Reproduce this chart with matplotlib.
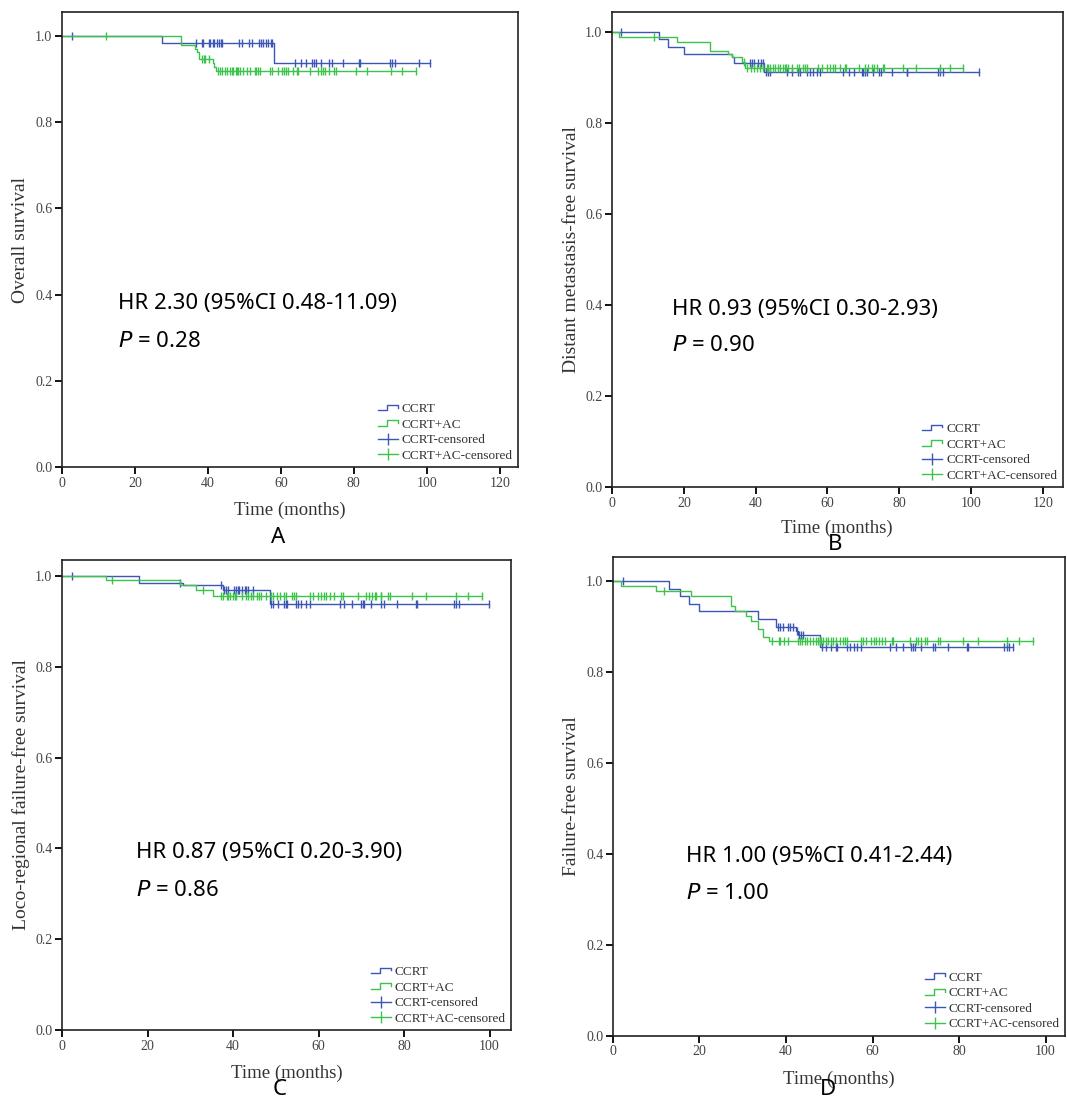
import matplotlib
matplotlib.use('Agg')
import matplotlib.pyplot as plt
import numpy as np
from matplotlib.lines import Line2D
from matplotlib.legend_handler import HandlerBase

# ---- Panel A : overall survival ----
A_ccrt_t = [27.3, 58.0]
A_ccrt_s = [0.983, 0.937]
A_ccrt_cens = [2.8, 36.7, 38.3, 38.7, 40.4, 40.7, 41.3, 41.7, 42.5, 43.0, 43.5, 43.9, 48.5, 49.4,
               51.3, 52.0, 53.9, 54.5, 55.2, 55.8, 56.5, 57.2, 57.7, 63.9, 65.4, 66.8, 68.6, 69.0,
               69.5, 70.9, 73.2, 74.1, 77.1, 81.4, 81.6, 89.9, 90.5, 91.2, 97.8, 101.0]
A_ac_t = [32.5, 36.4, 36.9, 37.6, 41.3, 41.7, 42.2]
A_ac_s = [0.979, 0.971, 0.964, 0.946, 0.938, 0.929, 0.919]
A_ac_cens = [12.1, 38.3, 38.9, 39.3, 40.2, 42.7, 43.3, 43.9, 44.6, 45.1, 46.0, 46.5, 46.9, 47.6,
             47.9, 48.3, 48.8, 49.5, 50.6, 51.5, 52.9, 53.3, 53.8, 54.2, 57.0, 57.6, 59.3, 60.2,
             60.8, 61.4, 62.0, 63.2, 64.3, 64.6, 68.1, 70.2, 70.9, 71.6, 72.2, 73.2, 74.5, 75.1,
             80.5, 83.6, 90.3, 93.2, 97.0]

# ---- Panel B : distant metastasis-free survival ----
B_ccrt_t = [13.1, 15.7, 20.1, 33.3, 34.0, 42.2]
B_ccrt_s = [0.984, 0.966, 0.951, 0.944, 0.933, 0.913]
B_ccrt_cens = [2.4, 38.4, 38.9, 39.6, 40.8, 41.4, 42.1, 42.8, 43.4, 44.0, 48.7, 50.1, 51.9, 52.4,
               54.2, 55.2, 56.1, 57.0, 57.8, 64.4, 66.1, 67.4, 69.5, 70.0, 70.5, 70.9, 72.8, 74.5,
               74.8, 77.9, 82.1, 82.3, 90.9, 91.4, 92.3, 102.2]
B_ac_t = [2.0, 18.2, 27.3, 32.2, 33.4, 36.1, 37.0]
B_ac_s = [0.990, 0.977, 0.958, 0.951, 0.944, 0.934, 0.922]
B_ac_cens = [11.8, 36.8, 37.5, 38.6, 39.6, 40.3, 41.2, 42.0, 43.1, 43.5, 44.0, 44.8, 45.4, 46.1,
             46.8, 47.5, 48.2, 48.6, 49.1, 50.0, 51.4, 52.2, 53.3, 53.8, 54.2, 57.5, 58.4, 59.8,
             60.7, 61.6, 62.1, 63.5, 64.9, 65.2, 68.9, 70.5, 71.4, 72.3, 73.0, 73.7, 75.6, 75.8,
             81.1, 84.7, 91.4, 94.2, 97.7]

# ---- Panel C : loco-regional failure-free survival ----
C_ccrt_t = [18.0, 28.3, 37.7, 48.6]
C_ccrt_s = [0.984, 0.980, 0.968, 0.938]
C_ccrt_cens = [2.4, 27.6, 37.1, 38.0, 38.4, 38.9, 40.3, 40.7, 41.1, 41.5, 42.1, 42.7, 43.1, 43.6,
               44.6, 48.8, 49.4, 50.5, 51.9, 52.3, 52.7, 54.7, 55.1, 55.8, 57.0, 58.1, 65.0, 66.0,
               67.9, 69.9, 70.3, 70.6, 72.2, 74.7, 75.2, 78.4, 82.9, 83.0, 91.6, 92.2, 92.8, 99.8]
C_ac_t = [10.3, 27.6, 31.3, 35.2]
C_ac_s = [0.991, 0.979, 0.968, 0.956]
C_ac_cens = [11.8, 33.0, 37.1, 37.7, 38.5, 38.9, 39.4, 39.9, 40.4, 40.8, 42.0, 43.1, 43.5, 44.1,
             44.7, 45.5, 46.0, 46.6, 47.8, 48.8, 49.4, 50.2, 50.9, 51.9, 52.5, 53.9, 54.3, 54.7,
             58.1, 58.7, 59.9, 60.5, 61.3, 61.8, 62.6, 63.6, 65.2, 65.6, 69.2, 71.2, 71.8, 72.4,
             73.1, 73.5, 74.5, 74.7, 76.2, 76.6, 81.9, 85.2, 92.1, 94.9, 98.3]

# ---- Panel D : failure-free survival ----
D_ccrt_t = [13.0, 15.4, 17.6, 19.9, 33.5, 37.6, 42.3, 42.8, 47.8]
D_ccrt_s = [0.983, 0.966, 0.950, 0.933, 0.916, 0.899, 0.890, 0.881, 0.854]
D_ccrt_cens = [2.2, 38.2, 38.5, 39.2, 40.5, 41.0, 41.6, 42.6, 43.0, 43.4, 43.9, 48.4, 49.3, 50.3,
               51.6, 51.9, 54.0, 54.7, 55.7, 56.5, 57.4, 64.0, 65.5, 67.1, 69.0, 69.4, 69.8, 71.1,
               74.0, 74.4, 77.5, 81.9, 82.1, 90.4, 91.0, 91.5, 92.5]
D_ac_t = [1.9, 10.0, 18.0, 27.2, 28.1, 30.8, 32.0, 33.5, 34.7, 36.1]
D_ac_s = [0.989, 0.978, 0.967, 0.945, 0.933, 0.923, 0.912, 0.894, 0.876, 0.867]
D_ac_cens = [11.8, 36.8, 38.3, 38.7, 39.5, 40.5, 42.8, 43.2, 43.6, 44.3, 44.9, 45.5, 46.3, 46.9,
             47.4, 47.8, 48.2, 48.6, 49.3, 49.7, 50.5, 50.9, 51.6, 52.4, 53.2, 53.6, 54.0, 57.3,
             57.8, 58.6, 59.7, 60.3, 60.9, 61.5, 62.1, 62.8, 64.4, 64.8, 68.6, 70.1, 70.5, 71.3,
             72.1, 72.5, 75.2, 75.6, 80.9, 84.3, 91.0, 93.8, 97.1]

ylabels = ['Overall survival', 'Distant metastasis-free survival',
           'Loco-regional failure-free survival', 'Failure-free survival']
hr_texts = ['HR 2.30 (95%CI 0.48-11.09)', 'HR 0.93 (95%CI 0.30-2.93)',
            'HR 0.87 (95%CI 0.20-3.90)', 'HR 1.00 (95%CI 0.41-2.44)']
p_texts = ['0.28', '0.90', '0.86', '1.00']
panel_letters = ['A', 'B', 'C', 'D']
legend_labels = ['CCRT', 'CCRT+AC', 'CCRT-censored', 'CCRT+AC-censored']

BLUE = '#3d55b4'
GREEN = '#3dc24b'
SERIF = 'Liberation Serif'
SANS = 'Noto Sans'


class StepHandler(HandlerBase):
    def create_artists(self, legend, orig_handle, xdescent, ydescent,
                       width, height, fontsize, trans):
        x0 = -xdescent
        y0 = -ydescent
        xs = [x0, x0 + 0.45 * width, x0 + 0.45 * width, x0 + width, x0 + width]
        ys = [y0 + 0.2 * height, y0 + 0.2 * height, y0 + 0.8 * height,
              y0 + 0.8 * height, y0 + 0.5 * height]
        ln = Line2D(xs, ys, color=orig_handle.get_color(), lw=1.0)
        ln.set_transform(trans)
        return [ln]


def km(ax, ev_t, ev_s, cens, color):
    ev_t = np.asarray(ev_t)
    ev_s = np.asarray(ev_s)
    cens = np.asarray(cens)
    t = np.r_[0, ev_t, cens.max()]
    s = np.r_[1.0, ev_s, ev_s[-1]]
    ax.step(t, s, where='post', color=color, lw=1.0)
    lev = np.r_[1.0, ev_s]
    cy = lev[np.searchsorted(ev_t, cens, side='right')]
    ax.plot(cens, cy, ls='none', marker='|', ms=6, mew=1.0, color=color)


fig = plt.figure(figsize=(10.67, 11.01), dpi=100)

# axes boxes [left, bottom, width, height] and x/y limits
boxes = [[0.0581, 0.5758, 0.4274, 0.4133],
         [0.5736, 0.5577, 0.4222, 0.4314],
         [0.0581, 0.0645, 0.4208, 0.4269],
         [0.5745, 0.0593, 0.4236, 0.4350]]
xmaxs = [125, 125.5, 105, 104.5]
ymaxs = [1.056, 1.044, 1.035, 1.053]
xticks = [np.arange(0, 121, 20), np.arange(0, 121, 20), np.arange(0, 101, 20), np.arange(0, 101, 20)]
hr_pos = [(15.3, 0.38, 0.292), (16.7, 0.391, 0.31), (17.3, 0.39, 0.308), (16.9, 0.393, 0.312)]
xlab_y = [-0.077, -0.069, -0.074, -0.072]
letter_pos = [(0.2605, 0.512), (0.7826, 0.505), (0.2624, 0.010), (0.776, 0.010)]

data = [(A_ccrt_t, A_ccrt_s, A_ccrt_cens, A_ac_t, A_ac_s, A_ac_cens),
        (B_ccrt_t, B_ccrt_s, B_ccrt_cens, B_ac_t, B_ac_s, B_ac_cens),
        (C_ccrt_t, C_ccrt_s, C_ccrt_cens, C_ac_t, C_ac_s, C_ac_cens),
        (D_ccrt_t, D_ccrt_s, D_ccrt_cens, D_ac_t, D_ac_s, D_ac_cens)]

for i in range(4):
    ax = fig.add_axes(boxes[i])
    ct, cs, cc, at, as_, ac = data[i]
    km(ax, ct, cs, cc, BLUE)
    km(ax, at, as_, ac, GREEN)

    ax.set_xlim(0, xmaxs[i])
    ax.set_ylim(0, ymaxs[i])
    ax.set_xticks(xticks[i])
    ax.set_yticks(np.arange(0, 1.01, 0.2))
    ax.set_yticklabels([f'{v:.1f}' for v in np.arange(0, 1.01, 0.2)])
    for sp in ax.spines.values():
        sp.set_linewidth(1.2)
        sp.set_color('#222222')
    ax.tick_params(direction='out', length=5, width=1.3, labelsize=10,
                   labelcolor='#444444', pad=2)
    for lab in ax.get_xticklabels() + ax.get_yticklabels():
        lab.set_fontfamily(SERIF)

    ax.set_xlabel('Time (months)', fontsize=13.5, family=SERIF, color='#333333')
    ax.xaxis.set_label_coords(0.5, xlab_y[i])
    ax.set_ylabel(ylabels[i], fontsize=14, family=SERIF, color='#333333')
    ax.yaxis.set_label_coords(-0.072, 0.5)

    hx, hy, py = hr_pos[i]
    ax.text(hx, hy, hr_texts[i], fontsize=16, family=SANS, va='center')
    ax.text(hx, py, r'$\mathit{P}$ = ' + p_texts[i], fontsize=16, family=SANS, va='center')

    handles = [Line2D([], [], color=BLUE), Line2D([], [], color=GREEN),
               Line2D([], [], color=BLUE, marker='|', ms=9, mew=1.0, lw=1.0),
               Line2D([], [], color=GREEN, marker='|', ms=9, mew=1.0, lw=1.0)]
    leg = ax.legend(handles, legend_labels, loc='lower right', frameon=False,
                    prop={'family': SERIF, 'size': 9.5}, handlelength=1.5,
                    handletextpad=0.3, labelspacing=0.25, borderpad=0.2,
                    borderaxespad=0.2,
                    handler_map={handles[0]: StepHandler(), handles[1]: StepHandler()})
    for t in leg.get_texts():
        t.set_color('#333333')

    fig.text(letter_pos[i][0], letter_pos[i][1], panel_letters[i], fontsize=16,
             family=SANS, ha='center', va='center')

fig.savefig('out.png', dpi=100)
